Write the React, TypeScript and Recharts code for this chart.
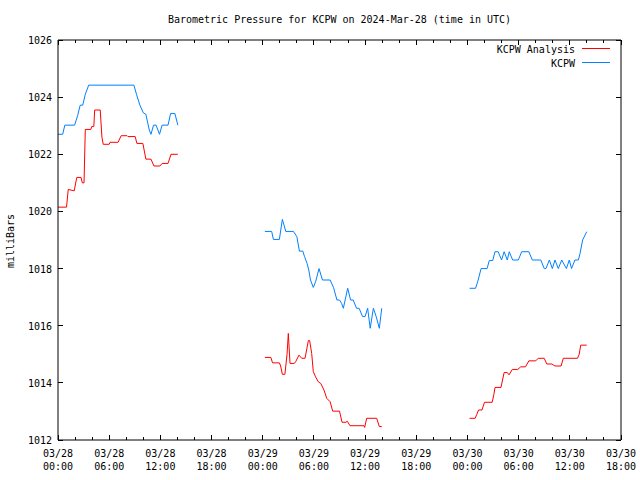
import React from "react";
import { LineChart, Line, XAxis, YAxis, Legend, ReferenceLine } from "recharts";

// hours since 2024-03-28 00:00 UTC, pressure in mb
const analysisSeg1: [number, number][] = [
  [0, 1020.15], [1.0, 1020.15], [1.2, 1020.77], [1.9, 1020.72], [2.2, 1021.19], [2.7, 1021.19],
  [2.85, 1021.0], [3.05, 1021.0], [3.2, 1022.87], [3.85, 1022.87], [3.95, 1022.97], [4.2, 1022.97],
  [4.3, 1023.55], [4.95, 1023.55], [5.15, 1022.6], [5.3, 1022.35], [6.0, 1022.35], [6.1, 1022.42],
  [7.05, 1022.42], [7.4, 1022.65], [8.1, 1022.65], [8.2, 1022.62], [9.05, 1022.62], [9.25, 1022.38],
  [9.95, 1022.38], [10.3, 1021.83], [10.9, 1021.83], [11.25, 1021.59], [11.95, 1021.59], [12.2, 1021.68],
  [12.9, 1021.68], [13.25, 1022.0], [14.05, 1022.0],
];
const analysisSeg2: [number, number][] = [
  [24.25, 1014.89], [24.95, 1014.89], [25.15, 1014.7], [25.95, 1014.7], [26.1, 1014.59], [26.3, 1014.3],
  [26.6, 1014.3], [26.85, 1015.0], [27.0, 1015.73], [27.2, 1014.68], [27.7, 1014.68], [27.86, 1014.74],
  [28.25, 1014.97], [28.57, 1014.86], [28.96, 1014.86], [29.35, 1015.48], [29.5, 1015.48], [29.74, 1015.03],
  [29.93, 1014.39], [30.2, 1014.21], [30.5, 1014.04], [30.8, 1013.98], [31.18, 1013.75], [31.5, 1013.46],
  [31.9, 1013.34], [32.2, 1013.01], [33.0, 1013.01], [33.3, 1012.62], [33.76, 1012.62], [33.9, 1012.66],
  [34.23, 1012.5], [35.87, 1012.5], [35.95, 1012.44], [36.19, 1012.76], [37.36, 1012.76], [37.67, 1012.47],
  [37.95, 1012.47],
];
const analysisSeg3: [number, number][] = [
  [48.25, 1012.76], [48.9, 1012.76], [49.1, 1012.9], [49.3, 1013.05], [49.7, 1013.05], [50.0, 1013.32],
  [50.9, 1013.32], [51.1, 1013.6], [51.23, 1013.84], [51.93, 1013.84], [52.3, 1014.36], [52.67, 1014.36],
  [52.87, 1014.28], [53.26, 1014.47], [53.9, 1014.47], [54.24, 1014.56], [54.8, 1014.56], [55.2, 1014.77],
  [56.0, 1014.77], [56.3, 1014.86], [57.0, 1014.86], [57.3, 1014.66], [57.9, 1014.66], [58.26, 1014.59],
  [58.97, 1014.59], [59.24, 1014.86], [60.9, 1014.86], [61.1, 1015.0], [61.28, 1015.32], [61.98, 1015.32],
];

const kcpwSeg1: [number, number][] = [
  [0, 1022.7], [0.55, 1022.7], [0.8, 1023.02], [1.95, 1023.02], [2.3, 1023.35], [2.6, 1023.72],
  [2.9, 1023.72], [3.2, 1024.1], [3.6, 1024.42], [8.9, 1024.42], [9.2, 1024.1], [9.6, 1023.72],
  [10.0, 1023.45], [10.3, 1023.4], [10.7, 1022.85], [10.9, 1022.7], [11.2, 1023.02], [11.5, 1023.02],
  [11.9, 1022.7], [12.2, 1023.02], [12.9, 1023.02], [13.2, 1023.43], [13.7, 1023.43], [14.05, 1023.02],
];
const kcpwSeg2: [number, number][] = [
  [24.25, 1019.3], [25.05, 1019.3], [25.25, 1019.02], [25.95, 1019.02], [26.3, 1019.72], [26.5, 1019.52],
  [26.7, 1019.3], [27.6, 1019.3], [28.0, 1019.12], [28.3, 1018.61], [28.7, 1018.61], [28.9, 1018.42],
  [29.2, 1018.18], [29.4, 1017.95], [29.6, 1017.6], [29.93, 1017.34], [30.2, 1017.54], [30.6, 1018.0],
  [31.0, 1017.6], [31.9, 1017.6], [32.3, 1017.34], [32.7, 1016.9], [33.0, 1016.9], [33.25, 1016.78],
  [33.45, 1016.61], [33.96, 1017.31], [34.3, 1016.9], [34.6, 1016.9], [35.0, 1016.61], [35.3, 1016.61],
  [35.7, 1016.32], [36.0, 1016.32], [36.3, 1016.61], [36.6, 1015.91], [36.97, 1016.61], [37.3, 1016.32],
  [37.67, 1015.91], [37.95, 1016.61],
];
const kcpwSeg3: [number, number][] = [
  [48.25, 1017.31], [48.95, 1017.31], [49.2, 1017.54], [49.6, 1018.0], [50.3, 1018.0], [50.56, 1018.28],
  [50.96, 1018.28], [51.23, 1018.59], [51.6, 1018.59], [52.0, 1018.3], [52.3, 1018.59], [52.67, 1018.3],
  [52.9, 1018.59], [53.3, 1018.3], [53.96, 1018.3], [54.36, 1018.59], [55.2, 1018.59], [55.6, 1018.3],
  [56.6, 1018.3], [57.0, 1018.0], [57.2, 1018.0], [57.6, 1018.3], [57.95, 1018.0], [58.26, 1018.3],
  [58.65, 1018.0], [59.05, 1018.3], [59.6, 1018.0], [59.94, 1018.3], [60.2, 1018.0], [60.6, 1018.3],
  [61.0, 1018.3], [61.2, 1018.53], [61.5, 1019.0], [61.98, 1019.29],
];

const xTicks = [0, 2, 4, 6, 8, 10, 12, 14, 16, 18, 20, 22, 24, 26, 28, 30, 32, 34, 36, 38, 40, 42, 44, 46, 48, 50, 52, 54, 56, 58, 60, 62, 64, 66];
const xDates = ["03/28", "03/28", "03/28", "03/28", "03/29", "03/29", "03/29", "03/29", "03/30", "03/30", "03/30", "03/30"];
const xTimes = ["00:00", "06:00", "12:00", "18:00", "00:00", "06:00", "12:00", "18:00", "00:00", "06:00", "12:00", "18:00"];
const yTicks = [1012, 1014, 1016, 1018, 1020, 1022, 1024, 1026];

const TITLE = "Barometric Pressure for KCPW on 2024-Mar-28 (time in UTC)";
const Y_LABEL = "milliBars";
const SERIES_NAMES = ["KCPW Analysis", "KCPW"];
const RED = "#ff0000";
const BLUE = "#0080ff";

const FONT = "'DejaVu Sans Mono', 'Liberation Mono', monospace";
const W = 640, H = 480;
const M = { top: 40, right: 19, left: 0, bottom: 0 };
const Y_AXIS_W = 58;
const X_AXIS_H = 40;
const PLOT_TOP = M.top;
const PLOT_LEFT = Y_AXIS_W;
const PLOT_RIGHT = W - M.right;

function toRows(segs: [number, number][][]) {
  const rows: { t: number; v: number | null }[] = [];
  segs.forEach((s, i) => {
    if (i > 0) {
      const prev = segs[i - 1];
      rows.push({ t: (prev[prev.length - 1][0] + s[0][0]) / 2, v: null });
    }
    s.forEach(([t, v]) => rows.push({ t, v }));
  });
  return rows;
}

const analysisRows = toRows([analysisSeg1, analysisSeg2, analysisSeg3]);
const kcpwRows = toRows([kcpwSeg1, kcpwSeg2, kcpwSeg3]);

const XTick = (props: any) => {
  const { x, y, payload } = props;
  const h = payload.value as number;
  const major = h % 6 === 0;
  const len = major ? 5 : 3;
  const idx = h / 6;
  return (
    <g>
      <line x1={x} y1={y} x2={x} y2={y - len} stroke="#000" shapeRendering="crispEdges" />
      <line x1={x} y1={PLOT_TOP} x2={x} y2={PLOT_TOP + len} stroke="#000" shapeRendering="crispEdges" />
      {major && (
        <text x={x} y={y + 17} textAnchor="middle" fontFamily={FONT} fontSize={10} fill="#000">
          <tspan x={x}>{xDates[idx]}</tspan>
          <tspan x={x} dy={13}>{xTimes[idx]}</tspan>
        </text>
      )}
    </g>
  );
};

const YTick = (props: any) => {
  const { x, y, payload } = props;
  return (
    <g>
      <line x1={x} y1={y} x2={x + 5} y2={y} stroke="#000" shapeRendering="crispEdges" />
      <line x1={PLOT_RIGHT} y1={y} x2={PLOT_RIGHT - 5} y2={y} stroke="#000" shapeRendering="crispEdges" />
      <text x={x - 6} y={y + 4} textAnchor="end" fontFamily={FONT} fontSize={10} fill="#000">
        {payload.value}
      </text>
    </g>
  );
};

const LegendBox = () => (
  <div style={{ position: "relative", width: W, height: 0 }}>
    {[RED, BLUE].map((c, i) => (
      <div key={i} style={{ position: "absolute", top: 43 + i * 14, left: 0, width: W, height: 12 }}>
        <span
          style={{
            position: "absolute",
            right: W - 575,
            top: 1,
            fontFamily: FONT,
            fontSize: 10,
            lineHeight: "12px",
            whiteSpace: "pre",
            color: "#000",
          }}
        >
          {SERIES_NAMES[i]}
        </span>
        <div style={{ position: "absolute", left: 582, top: 5, width: 28, height: 1, background: c }} />
      </div>
    ))}
  </div>
);

export default function App() {
  return (
    <div style={{ position: "absolute", left: 0, top: 0, width: W, height: H, background: "#fff" }}>
      <LineChart width={W} height={H} margin={M}>
        <XAxis
          dataKey="t"
          type="number"
          domain={[0, 66]}
          ticks={xTicks}
          interval={0}
          allowDataOverflow
          height={X_AXIS_H}
          tickSize={0}
          tickMargin={0}
          tickLine={false}
          axisLine={{ stroke: "#000" }}
          tick={<XTick />}
        />
        <YAxis
          type="number"
          domain={[1012, 1026]}
          ticks={yTicks}
          interval={0}
          allowDataOverflow
          width={Y_AXIS_W}
          tickSize={0}
          tickMargin={0}
          tickLine={false}
          axisLine={{ stroke: "#000" }}
          tick={<YTick />}
        />
        <ReferenceLine y={1026} stroke="#000" />
        <ReferenceLine x={66} stroke="#000" />
        <Legend
          verticalAlign="top"
          wrapperStyle={{ position: "absolute", left: 0, top: 0, width: W, height: 0 }}
          content={() => <LegendBox />}
        />
        <Line
          data={analysisRows}
          dataKey="v"
          name={SERIES_NAMES[0]}
          type="linear"
          stroke={RED}
          strokeWidth={1}
          dot={false}
          activeDot={false}
          isAnimationActive={false}
        />
        <Line
          data={kcpwRows}
          dataKey="v"
          name={SERIES_NAMES[1]}
          type="linear"
          stroke={BLUE}
          strokeWidth={1}
          dot={false}
          activeDot={false}
          isAnimationActive={false}
        />
      </LineChart>
      <div
        style={{
          position: "absolute",
          left: PLOT_LEFT,
          width: PLOT_RIGHT - PLOT_LEFT,
          top: 13,
          textAlign: "center",
          fontFamily: FONT,
          fontSize: 10,
          lineHeight: "14px",
          whiteSpace: "pre",
          pointerEvents: "none",
        }}
      >
        {TITLE}
      </div>
      <div
        style={{
          position: "absolute",
          left: 11,
          top: 241,
          transform: "translate(-50%, -50%) rotate(-90deg)",
          fontFamily: FONT,
          fontSize: 10,
          lineHeight: "12px",
          whiteSpace: "pre",
          pointerEvents: "none",
        }}
      >
        {Y_LABEL}
      </div>
    </div>
  );
}
